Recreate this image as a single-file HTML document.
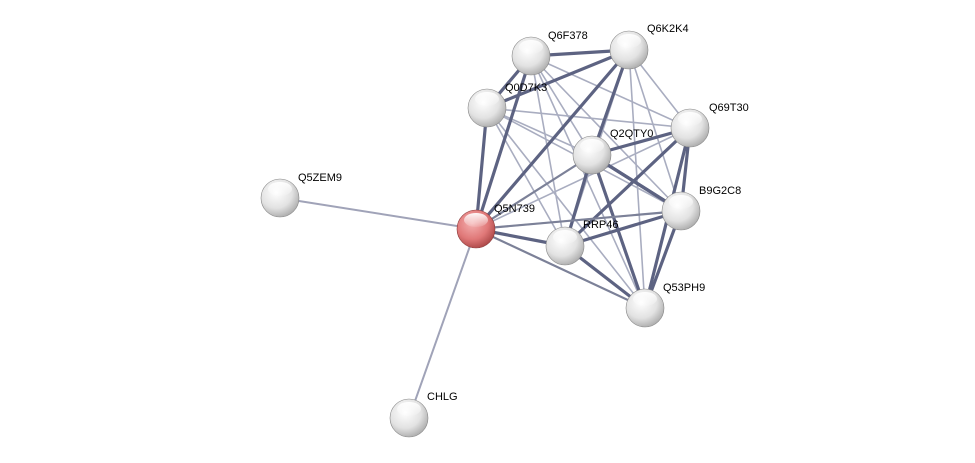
<!DOCTYPE html>
<html><head><meta charset="utf-8"><style>
html,body{margin:0;padding:0;background:#fff;width:975px;height:463px;overflow:hidden}
text{font-family:"Liberation Sans",sans-serif;font-size:11px;fill:#000}
</style></head><body>
<svg width="975" height="463" viewBox="0 0 975 463" xmlns="http://www.w3.org/2000/svg">
<defs>
<radialGradient id="g" cx="0.4" cy="0.35" r="0.7">
<stop offset="0" stop-color="#ffffff"/><stop offset="0.6" stop-color="#e2e2e2"/><stop offset="1" stop-color="#a8a8a8"/></radialGradient>
<radialGradient id="r" cx="0.4" cy="0.35" r="0.7">
<stop offset="0" stop-color="#f4b0b0"/><stop offset="0.6" stop-color="#e07878"/><stop offset="1" stop-color="#a84444"/></radialGradient>
<linearGradient id="sh" x1="0" y1="0" x2="0" y2="1"><stop offset="0" stop-color="#fff" stop-opacity="0.95"/><stop offset="1" stop-color="#fff" stop-opacity="0.1"/></linearGradient>
</defs>
<g stroke-linecap="round">
<line x1="476" y1="229" x2="280" y2="198" stroke="#a0a3b8" stroke-width="2"/>
<line x1="476" y1="229" x2="409" y2="418" stroke="#a0a3b8" stroke-width="2"/>
<g stroke="#a9adc0" stroke-width="1.6">
<line x1="531" y1="56" x2="690" y2="128"/><line x1="531" y1="56" x2="681" y2="211"/><line x1="531" y1="56" x2="645" y2="308"/><line x1="531" y1="56" x2="565" y2="246"/><line x1="531" y1="56" x2="592" y2="155"/>
<line x1="629" y1="50" x2="690" y2="128"/><line x1="629" y1="50" x2="681" y2="211"/><line x1="629" y1="50" x2="645" y2="308"/><line x1="629" y1="50" x2="565" y2="246"/>
<line x1="487" y1="108" x2="690" y2="128"/><line x1="487" y1="108" x2="681" y2="211"/><line x1="487" y1="108" x2="645" y2="308"/><line x1="487" y1="108" x2="565" y2="246"/><line x1="487" y1="108" x2="592" y2="155"/>
<line x1="476" y1="229" x2="690" y2="128"/><line x1="476" y1="229" x2="592" y2="155"/><line x1="476" y1="229" x2="681" y2="211"/><line x1="476" y1="229" x2="645" y2="308"/><line x1="476" y1="229" x2="531" y2="56"/>
<line x1="592" y1="155" x2="645" y2="308"/><line x1="565" y1="246" x2="690" y2="128"/>
</g>
<g stroke="#5d6382" stroke-width="3.2">
<line x1="531" y1="56" x2="629" y2="50"/><line x1="487" y1="108" x2="629" y2="50"/><line x1="487" y1="108" x2="531" y2="56"/>
<line x1="476" y1="229" x2="487" y2="108"/><line x1="476" y1="229" x2="629" y2="50"/><line x1="476" y1="229" x2="531" y2="56"/>
<line x1="629" y1="50" x2="592" y2="155"/><line x1="592" y1="155" x2="690" y2="128"/><line x1="592" y1="155" x2="681" y2="211"/>
<line x1="592" y1="155" x2="565" y2="246"/><line x1="592" y1="155" x2="645" y2="308"/>
<line x1="690" y1="128" x2="681" y2="211"/><line x1="690" y1="128" x2="645" y2="308"/><line x1="681" y1="211" x2="645" y2="308"/>
<line x1="681" y1="211" x2="565" y2="246"/><line x1="565" y1="246" x2="645" y2="308"/><line x1="565" y1="246" x2="690" y2="128"/>
<line x1="476" y1="229" x2="565" y2="246"/><line x1="592" y1="155" x2="681" y2="211"/>
</g>
<g stroke="#7c8198" stroke-width="2.2">
<line x1="476" y1="229" x2="681" y2="211"/><line x1="476" y1="229" x2="645" y2="308"/><line x1="592" y1="155" x2="476" y2="229"/>
</g>
</g>
<g stroke="#888" stroke-width="0.6">
<circle cx="280" cy="198" r="19" fill="url(#g)"/><circle cx="409" cy="418" r="19" fill="url(#g)"/>
<circle cx="531" cy="56" r="19" fill="url(#g)"/><circle cx="629" cy="50" r="19" fill="url(#g)"/>
<circle cx="487" cy="108" r="19" fill="url(#g)"/><circle cx="690" cy="128" r="19" fill="url(#g)"/>
<circle cx="592" cy="155" r="19" fill="url(#g)"/><circle cx="681" cy="211" r="19" fill="url(#g)"/>
<circle cx="565" cy="246" r="19" fill="url(#g)"/><circle cx="645" cy="308" r="19" fill="url(#g)"/>
<circle cx="476" cy="229" r="19" fill="url(#r)" stroke="#8a3a3a"/>
</g>
<g fill="url(#sh)">
<ellipse cx="280" cy="189" rx="12" ry="7"/><ellipse cx="409" cy="409" rx="12" ry="7"/>
<ellipse cx="531" cy="47" rx="12" ry="7"/><ellipse cx="629" cy="41" rx="12" ry="7"/>
<ellipse cx="487" cy="99" rx="12" ry="7"/><ellipse cx="690" cy="119" rx="12" ry="7"/>
<ellipse cx="592" cy="146" rx="12" ry="7"/><ellipse cx="681" cy="202" rx="12" ry="7"/>
<ellipse cx="565" cy="237" rx="12" ry="7"/><ellipse cx="645" cy="299" rx="12" ry="7"/>
<ellipse cx="476" cy="220" rx="12" ry="7"/>
</g>
<text x="298" y="181">Q5ZEM9</text>
<text x="427" y="400">CHLG</text>
<text x="548" y="39">Q6F378</text>
<text x="647" y="32">Q6K2K4</text>
<text x="505" y="91">Q0D7K3</text>
<text x="709" y="111">Q69T30</text>
<text x="610" y="137">Q2QTY0</text>
<text x="699" y="194">B9G2C8</text>
<text x="494" y="212">Q5N739</text>
<text x="583" y="228">RRP46</text>
<text x="663" y="291">Q53PH9</text>
</svg>
</body></html>
